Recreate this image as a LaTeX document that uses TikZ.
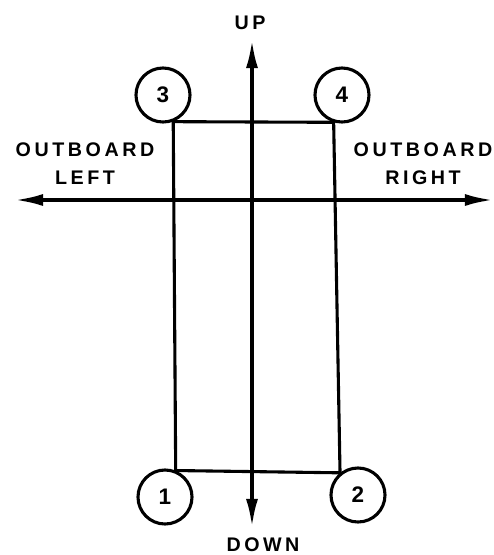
\documentclass[tikz,border=0pt]{standalone}
\usepackage{fontspec}
\newfontfamily\lblfont{Liberation Sans}[LetterSpace=18]
\usetikzlibrary{arrows.meta}

\begin{document}
\begin{tikzpicture}[x=0.025cm,y=-0.025cm,
    seat/.style={draw,circle,line width=2.2pt,minimum size=1.35cm,inner sep=0pt,
                 font=\lblfont\bfseries\fontsize{16}{18}\selectfont},
    dirlbl/.style={align=center,inner sep=0pt,
                 font=\lblfont\bfseries\fontsize{14}{20}\selectfont},
    frame/.style={line width=2.2pt},
    axis/.style={line width=2.4pt,{Latex[length=7mm,width=3mm]}-{Latex[length=7mm,width=3mm]}}]
  \useasboundingbox (0,0) rectangle (494,555);
  %% Seats
  \node[seat] (s3) at (163,95) {3};
  \node[seat] (s4) at (342,95) {4};
  \node[seat] (s1) at (165,497) {1};
  \node[seat] (s2) at (358,495) {2};
  %% Frame
  \draw[frame] (s3.-69) -- (s1.68) -- (s2.129) -- (s4.-107) -- cycle;
  %% Axes
  \coordinate (uptip) at (252,40);
  \coordinate (dntip) at (252,527);
  \coordinate (lftip) at (15,200);
  \coordinate (rttip) at (493,200);
  \draw[axis] (dntip) -- (uptip);
  \draw[axis] (lftip) -- (rttip);
  %% Labels
  \node[dirlbl] (up) at (250,23) {UP};
  \node[dirlbl] (down) at (263,545) {DOWN};
  \node[dirlbl] (obl) at (85,164) {OUTBOARD\\LEFT};
  \node[dirlbl] (obr) at (423,164) {OUTBOARD\\RIGHT};
\end{tikzpicture}
\end{document}
